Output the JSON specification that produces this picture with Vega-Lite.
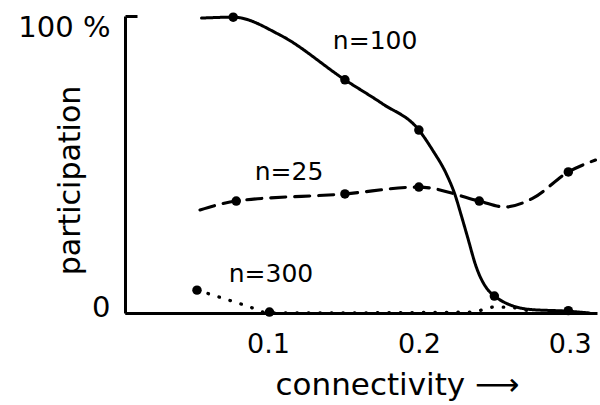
{
  "$schema": "https://vega.github.io/schema/vega-lite/v6.json",
  "width": 472,
  "height": 297,
  "autosize": {"type": "none"},
  "padding": {"left": 125, "top": 16, "right": 3, "bottom": 92},
  "background": "white",
  "config": {"view": {"stroke": null}, "font": "DejaVu Sans"},
  "datasets": {
    "curves": [
      {"series": "n=100", "x": 0.056, "y": 99.3},
      {"series": "n=100", "x": 0.077, "y": 99.6},
      {"series": "n=100", "x": 0.108, "y": 93.6},
      {"series": "n=100", "x": 0.151, "y": 78.5},
      {"series": "n=100", "x": 0.176, "y": 70.4},
      {"series": "n=100", "x": 0.2, "y": 61.6},
      {"series": "n=100", "x": 0.209, "y": 54.9},
      {"series": "n=100", "x": 0.2185, "y": 46.5},
      {"series": "n=100", "x": 0.224, "y": 39.7},
      {"series": "n=100", "x": 0.228, "y": 33.0},
      {"series": "n=100", "x": 0.232, "y": 26.0},
      {"series": "n=100", "x": 0.238, "y": 15.5},
      {"series": "n=100", "x": 0.25, "y": 5.7},
      {"series": "n=100", "x": 0.2735, "y": 1.2},
      {"series": "n=100", "x": 0.299, "y": 0.6},
      {"series": "n=100", "x": 0.313, "y": 0},
      {"series": "n=25", "x": 0.055, "y": 34.7},
      {"series": "n=25", "x": 0.079, "y": 37.7},
      {"series": "n=25", "x": 0.151, "y": 40.1},
      {"series": "n=25", "x": 0.2, "y": 42.4},
      {"series": "n=25", "x": 0.24, "y": 37.7},
      {"series": "n=25", "x": 0.257, "y": 35.7},
      {"series": "n=25", "x": 0.275, "y": 38.5},
      {"series": "n=25", "x": 0.299, "y": 47.5},
      {"series": "n=25", "x": 0.317, "y": 51.5},
      {"series": "n=300", "x": 0.053, "y": 7.7},
      {"series": "n=300", "x": 0.07, "y": 5.0},
      {"series": "n=300", "x": 0.086, "y": 2.4},
      {"series": "n=300", "x": 0.101, "y": 0},
      {"series": "n=300", "x": 0.235, "y": 0.3},
      {"series": "n=300", "x": 0.25, "y": 2.0},
      {"series": "n=300", "x": 0.262, "y": 1.8},
      {"series": "n=300", "x": 0.275, "y": 0.4}
    ],
    "dots": [
      {"series": "n=100", "x": 0.077, "y": 99.6},
      {"series": "n=100", "x": 0.151, "y": 78.5},
      {"series": "n=100", "x": 0.2, "y": 61.6},
      {"series": "n=100", "x": 0.25, "y": 5.7},
      {"series": "n=100", "x": 0.299, "y": 0.8},
      {"series": "n=25", "x": 0.079, "y": 37.7},
      {"series": "n=25", "x": 0.151, "y": 40.1},
      {"series": "n=25", "x": 0.2, "y": 42.4},
      {"series": "n=25", "x": 0.24, "y": 37.7},
      {"series": "n=25", "x": 0.299, "y": 47.5},
      {"series": "n=300", "x": 0.053, "y": 7.7},
      {"series": "n=300", "x": 0.101, "y": 0.3}
    ],
    "labels": [
      {"text": "n=100", "x": 0.171, "y": 91.5},
      {"text": "n=25", "x": 0.114, "y": 47.5},
      {"text": "n=300", "x": 0.102, "y": 13.1}
    ]
  },
  "layer": [
    {
      "data": {"name": "curves"},
      "mark": {"type": "line", "interpolate": "monotone", "color": "black", "strokeCap": "round", "clip": false},
      "encoding": {
        "x": {
          "field": "x", "type": "quantitative",
          "scale": {"domain": [0.0053, 0.318], "nice": false, "zero": false},
          "axis": {
            "values": [0.1, 0.2, 0.3],
            "format": ".1f",
            "grid": false,
            "ticks": false,
            "domainColor": "black",
            "domainWidth": 3,
            "labelFont": "DejaVu Sans",
            "labelFontSize": 27,
            "labelColor": "black",
            "labelPadding": 18,
            "title": "connectivity \u27f6",
            "titleFont": "DejaVu Sans",
            "titleFontSize": 31,
            "titleFontWeight": "normal",
            "titleColor": "black",
            "titleAnchor": "start",
            "titleAlign": "left",
            "titleX": 150,
            "titleY": 72,
            "titleBaseline": "middle"
          }
        },
        "y": {
          "field": "y", "type": "quantitative",
          "scale": {"domain": [0, 100], "nice": false},
          "axis": {
            "values": [0, 100],
            "labelExpr": "datum.value == 100 ? '100 %' : '0'",
            "labelOffset": {"condition": {"test": "datum.value == 100", "value": 11}, "value": -6},
            "grid": false,
            "ticks": true,
            "tickSize": -12,
            "tickWidth": 3,
            "tickColor": "black",
            "domainColor": "black",
            "domainWidth": 3,
            "labelFont": "DejaVu Sans",
            "labelFontSize": 29,
            "labelColor": "black",
            "labelPadding": 27,
            "title": "participation",
            "titleFont": "DejaVu Sans",
            "titleFontSize": 30,
            "titleFontWeight": "normal",
            "titleColor": "black",
            "titleX": -55,
            "titleY": 164,
            "titleAngle": 270,
            "titleAlign": "center",
            "titleBaseline": "middle"
          }
        },
        "detail": {"field": "series"},
        "strokeDash": {
          "field": "series",
          "scale": {"domain": ["n=100", "n=25", "n=300"], "range": [[1, 0], [15, 9], [0.5, 11]]},
          "legend": null
        },
        "strokeWidth": {
          "field": "series",
          "scale": {"domain": ["n=100", "n=25", "n=300"], "range": [3, 3.3, 4]},
          "legend": null
        }
      }
    },
    {
      "data": {"name": "dots"},
      "mark": {"type": "point", "filled": true, "color": "black", "opacity": 1, "size": 90, "clip": false},
      "encoding": {
        "x": {"field": "x", "type": "quantitative"},
        "y": {"field": "y", "type": "quantitative"}
      }
    },
    {
      "data": {"name": "labels"},
      "mark": {"type": "text", "font": "DejaVu Sans", "fontSize": 25, "color": "black", "align": "center", "baseline": "middle"},
      "encoding": {
        "x": {"field": "x", "type": "quantitative"},
        "y": {"field": "y", "type": "quantitative"},
        "text": {"field": "text"}
      }
    }
  ]
}
